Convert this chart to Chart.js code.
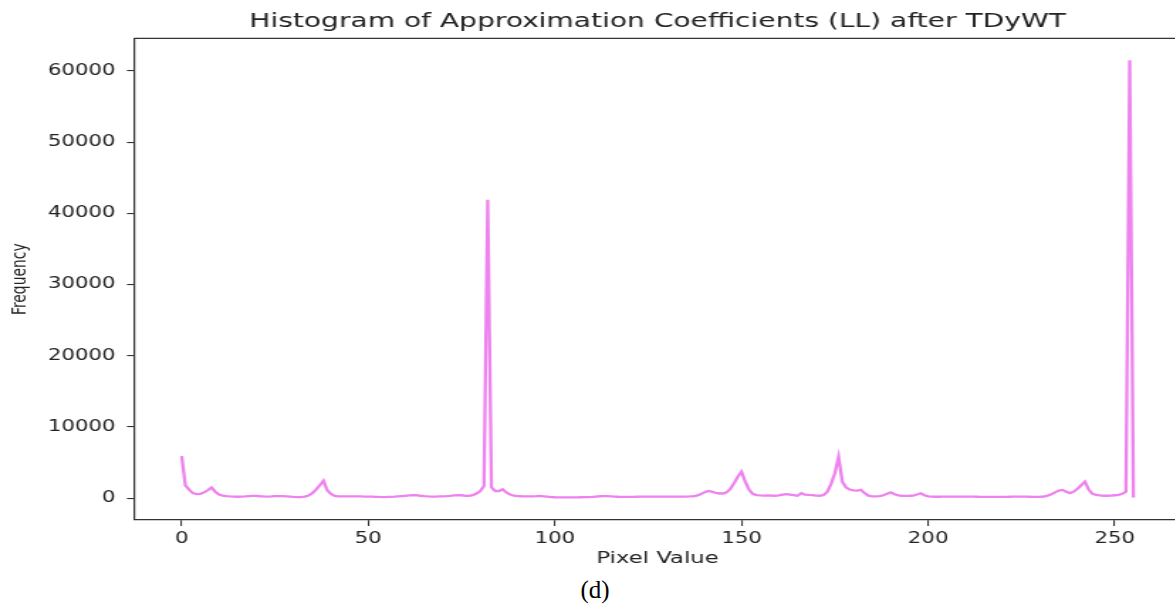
<!DOCTYPE html>
<html>
<head>
<meta charset="utf-8">
<script src="https://cdn.jsdelivr.net/npm/chart.js@4.4.1/dist/chart.umd.min.js"></script>
<style>
  html, body { margin:0; padding:0; background:#fff; width:1175px; height:615px; overflow:hidden; }
  #wrap { position:absolute; left:0; top:0; width:838px; height:575px; transform:scaleX(1.42); transform-origin:0 0; }
  #cap { position:absolute; left:545px; width:100px; top:577px; text-align:center; font-family:"Liberation Serif","Times New Roman",serif; font-size:25px; line-height:25px; color:#000; }
</style>
</head>
<body>
<div id="wrap"><canvas id="c" width="838" height="575"></canvas></div>
<div id="cap">(d)</div>
<script>
// ---- data ----
const titleText = "Histogram of Approximation Coefficients (LL) after TDyWT";
const xLabel = "Pixel Value";
const yLabel = "Frequency";
const xTicks = [0, 50, 100, 150, 200, 250];
const yTicks = [0, 10000, 20000, 30000, 40000, 50000, 60000];
// frequency for pixel values 0..255
const freq0 = [5900,1800,1200,700,550,600,800,1100,1500,900,500,350,280,230,200,190,200,230,280,320,300,260,230,220,240,270,290,280,250,220,180,150];
const freq1 = [130,200,350,700,1200,1800,2450,1100,600,300,250,240,250,240,230,240,230,220,210,200,180,160,150,160,180,210,250,290,330,380,420,400];
const freq2 = [330,270,230,200,210,230,250,270,310,380,430,400,330,320,420,650,1000,1700,41900,1500,1000,1000,1250,800,500,330,280,260,250,240,250,270];
const freq3 = [300,250,200,150,120,110,100,100,100,100,110,120,130,150,180,220,260,290,270,240,210,190,180,170,170,180,190,200,210,220,210,200];
const freq4 = [200,210,220,210,200,200,210,220,230,250,350,550,800,1000,900,750,650,650,800,1300,2100,3000,3700,2300,1200,600,420,380,360,370,340,330];
const freq5 = [400,500,560,500,430,330,700,500,450,420,350,330,450,900,2000,3500,5800,2300,1500,1200,1100,1050,1150,700,350,250,240,270,400,600,800,550];
const freq6 = [380,330,320,330,350,500,680,400,250,200,190,190,200,210,220,220,220,220,220,210,200,190,180,170,170,170,160,160,170,180,190,200];
const freq7 = [210,210,200,190,180,180,190,220,350,550,800,1050,1150,900,700,900,1300,1800,2300,1200,600,450,380,330,330,350,400,450,600,900,61500,100];
const freq = [].concat(freq0, freq1, freq2, freq3, freq4, freq5, freq6, freq7);
const pixelValues = freq.map((_, i) => i);

const points = pixelValues.map((x, i) => ({ x: x, y: freq[i] }));

const framePlugin = {
  id: 'frame',
  afterDraw(chart) {
    const { ctx, chartArea: a } = chart;
    ctx.save();
    ctx.strokeStyle = '#333';
    ctx.lineWidth = 1.2;
    ctx.beginPath();
    ctx.moveTo(a.left, a.top);
    ctx.lineTo(a.right, a.top);
    ctx.lineTo(a.right, a.bottom);
    ctx.stroke();
    ctx.restore();
  }
};

new Chart(document.getElementById('c'), {
  type: 'line',
  data: {
    datasets: [{
      data: points,
      borderColor: '#EE82EE',
      borderWidth: 2.3,
      pointRadius: 0,
      tension: 0,
      fill: false
    }]
  },
  options: {
    responsive: false,
    animation: false,
    devicePixelRatio: 1,
    layout: { padding: { left: 0, right: 6.3, top: 0, bottom: 0 } },
    plugins: {
      legend: { display: false },
      tooltip: { enabled: false },
      title: {
        display: true,
        text: titleText,
        fullSize: false,
        color: '#222',
        font: { family: 'DejaVu Sans', size: 19.8, weight: 'normal' },
        padding: { top: 10, bottom: 4.6 }
      }
    },
    scales: {
      x: {
        type: 'linear',
        min: -12.75,
        max: 267.75,
        afterBuildTicks: (s) => { s.ticks = xTicks.map(v => ({ value: v })); },
        afterFit: (s) => { s.height = 55; },
        grid: { drawOnChartArea: false, drawTicks: true, tickLength: 6, color: '#333', lineWidth: 1.1 },
        border: { display: true, color: '#333', width: 1.2 },
        ticks: { color: '#222', font: { family: 'DejaVu Sans', size: 15 }, padding: 4, maxRotation: 0, autoSkip: false, callback: (v) => String(v) },
        title: { display: true, text: xLabel, color: '#222', font: { family: 'DejaVu Sans', size: 16 }, padding: { top: 0, bottom: 6.5 } }
      },
      y: {
        type: 'linear',
        min: -3075,
        max: 64575,
        afterBuildTicks: (s) => { s.ticks = yTicks.map(v => ({ value: v })); },
        afterFit: (s) => { s.width = 94.4; },
        grid: { drawOnChartArea: false, drawTicks: true, tickLength: 5, color: '#333', lineWidth: 1.1 },
        border: { display: true, color: '#333', width: 1.2 },
        ticks: { color: '#222', font: { family: 'DejaVu Sans', size: 15 }, padding: 8, autoSkip: false, callback: (v) => String(v) },
        title: { display: true, text: yLabel, color: '#222', font: { family: 'DejaVu Sans', size: 13.9 }, padding: { top: 6.5, bottom: 0 } }
      }
    }
  },
  plugins: [framePlugin]
});
</script>
</body>
</html>
